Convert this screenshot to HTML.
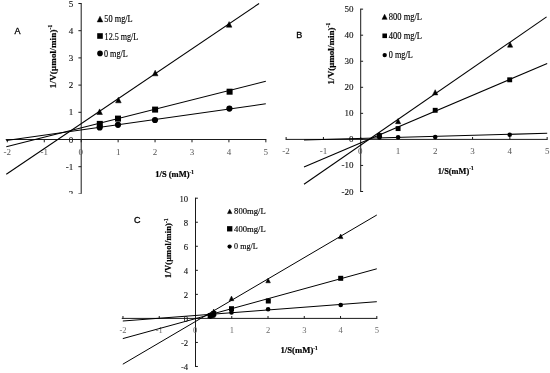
<!DOCTYPE html>
<html lang="en"><head><meta charset="utf-8"><title>Lineweaver-Burk plots</title>
<style>html,body{margin:0;padding:0;background:#fff;}svg{display:block;}</style></head><body>
<svg width="550" height="373" viewBox="0 0 550 373">
<rect x="0" y="0" width="550" height="373" fill="#fff"/>
<g id="chartA">
<line x1="81.20" y1="3.00" x2="81.20" y2="194.40" stroke="#1a1a1a" stroke-width="1"/>
<line x1="5.73" y1="139.50" x2="266.35" y2="139.50" stroke="#1a1a1a" stroke-width="1"/>
<line x1="81.20" y1="3.50" x2="78.40" y2="3.50" stroke="#1a1a1a" stroke-width="1"/>
<text x="73.20" y="6.50" font-size="9" text-anchor="end" font-weight="normal" font-family='"Liberation Serif", serif' fill="#111" stroke="#111" stroke-width="0.12">5</text>
<line x1="81.20" y1="30.70" x2="78.40" y2="30.70" stroke="#1a1a1a" stroke-width="1"/>
<text x="73.20" y="33.70" font-size="9" text-anchor="end" font-weight="normal" font-family='"Liberation Serif", serif' fill="#111" stroke="#111" stroke-width="0.12">4</text>
<line x1="81.20" y1="57.90" x2="78.40" y2="57.90" stroke="#1a1a1a" stroke-width="1"/>
<text x="73.20" y="60.90" font-size="9" text-anchor="end" font-weight="normal" font-family='"Liberation Serif", serif' fill="#111" stroke="#111" stroke-width="0.12">3</text>
<line x1="81.20" y1="85.10" x2="78.40" y2="85.10" stroke="#1a1a1a" stroke-width="1"/>
<text x="73.20" y="88.10" font-size="9" text-anchor="end" font-weight="normal" font-family='"Liberation Serif", serif' fill="#111" stroke="#111" stroke-width="0.12">2</text>
<line x1="81.20" y1="112.30" x2="78.40" y2="112.30" stroke="#1a1a1a" stroke-width="1"/>
<text x="73.20" y="115.30" font-size="9" text-anchor="end" font-weight="normal" font-family='"Liberation Serif", serif' fill="#111" stroke="#111" stroke-width="0.12">1</text>
<line x1="81.20" y1="139.50" x2="78.40" y2="139.50" stroke="#1a1a1a" stroke-width="1"/>
<text x="73.20" y="142.50" font-size="9" text-anchor="end" font-weight="normal" font-family='"Liberation Serif", serif' fill="#111" stroke="#111" stroke-width="0.12">0</text>
<line x1="81.20" y1="166.70" x2="78.40" y2="166.70" stroke="#1a1a1a" stroke-width="1"/>
<text x="73.20" y="169.70" font-size="9" text-anchor="end" font-weight="normal" font-family='"Liberation Serif", serif' fill="#111" stroke="#111" stroke-width="0.12">-1</text>
<line x1="81.20" y1="193.90" x2="78.40" y2="193.90" stroke="#1a1a1a" stroke-width="1"/>
<text x="73.20" y="196.90" font-size="9" text-anchor="end" font-weight="normal" font-family='"Liberation Serif", serif' fill="#111" stroke="#111" stroke-width="0.12">-2</text>
<line x1="7.34" y1="139.50" x2="7.34" y2="142.30" stroke="#1a1a1a" stroke-width="1"/>
<text x="7.34" y="154.50" font-size="9" text-anchor="middle" font-weight="normal" font-family='"Liberation Serif", serif' fill="#555">-2</text>
<line x1="44.27" y1="139.50" x2="44.27" y2="142.30" stroke="#1a1a1a" stroke-width="1"/>
<text x="44.27" y="154.50" font-size="9" text-anchor="middle" font-weight="normal" font-family='"Liberation Serif", serif' fill="#555">-1</text>
<line x1="81.20" y1="139.50" x2="81.20" y2="142.30" stroke="#1a1a1a" stroke-width="1"/>
<text x="80.80" y="154.50" font-size="9" text-anchor="middle" font-weight="normal" font-family='"Liberation Serif", serif' fill="#555">0</text>
<line x1="118.13" y1="139.50" x2="118.13" y2="142.30" stroke="#1a1a1a" stroke-width="1"/>
<text x="118.13" y="154.50" font-size="9" text-anchor="middle" font-weight="normal" font-family='"Liberation Serif", serif' fill="#555">1</text>
<line x1="155.06" y1="139.50" x2="155.06" y2="142.30" stroke="#1a1a1a" stroke-width="1"/>
<text x="155.06" y="154.50" font-size="9" text-anchor="middle" font-weight="normal" font-family='"Liberation Serif", serif' fill="#555">2</text>
<line x1="191.99" y1="139.50" x2="191.99" y2="142.30" stroke="#1a1a1a" stroke-width="1"/>
<text x="191.99" y="154.50" font-size="9" text-anchor="middle" font-weight="normal" font-family='"Liberation Serif", serif' fill="#555">3</text>
<line x1="228.92" y1="139.50" x2="228.92" y2="142.30" stroke="#1a1a1a" stroke-width="1"/>
<text x="228.92" y="154.50" font-size="9" text-anchor="middle" font-weight="normal" font-family='"Liberation Serif", serif' fill="#555">4</text>
<line x1="265.85" y1="139.50" x2="265.85" y2="142.30" stroke="#1a1a1a" stroke-width="1"/>
<text x="265.85" y="154.50" font-size="9" text-anchor="middle" font-weight="normal" font-family='"Liberation Serif", serif' fill="#555">5</text>
<line x1="6.30" y1="174.30" x2="259.10" y2="3.50" stroke="#000" stroke-width="1.05"/>
<line x1="6.30" y1="146.80" x2="265.80" y2="81.30" stroke="#000" stroke-width="1.05"/>
<line x1="6.30" y1="140.50" x2="265.80" y2="103.80" stroke="#000" stroke-width="1.05"/>
<circle cx="99.70" cy="127.40" r="3.10" fill="#000"/>
<circle cx="118.00" cy="124.80" r="3.10" fill="#000"/>
<circle cx="155.00" cy="120.00" r="3.10" fill="#000"/>
<circle cx="229.40" cy="108.60" r="3.10" fill="#000"/>
<rect x="96.80" y="120.90" width="6.0" height="6.0" fill="#000"/>
<rect x="115.00" y="115.60" width="6.0" height="6.0" fill="#000"/>
<rect x="152.10" y="106.60" width="6.0" height="6.0" fill="#000"/>
<rect x="226.60" y="88.70" width="6.0" height="6.0" fill="#000"/>
<polygon points="99.60,108.90 102.40,114.50 96.80,114.50" fill="#000" stroke="#000" stroke-width="0.5" stroke-linejoin="miter"/>
<polygon points="118.40,97.20 121.20,102.80 115.60,102.80" fill="#000" stroke="#000" stroke-width="0.5" stroke-linejoin="miter"/>
<polygon points="155.20,70.20 158.00,75.80 152.40,75.80" fill="#000" stroke="#000" stroke-width="0.5" stroke-linejoin="miter"/>
<polygon points="229.10,21.60 231.90,27.20 226.30,27.20" fill="#000" stroke="#000" stroke-width="0.5" stroke-linejoin="miter"/>
<polygon points="100.00,16.30 102.80,21.90 97.20,21.90" fill="#000" stroke="#000" stroke-width="0.5" stroke-linejoin="miter"/>
<text x="104.30" y="22.40" font-size="9.5" font-weight="normal" font-family='"Liberation Serif", serif' fill="#000" stroke="#000" stroke-width="0.15" textLength="28.40" lengthAdjust="spacingAndGlyphs">50 mg/L</text>
<rect x="97.20" y="33.20" width="5.6" height="5.6" fill="#000"/>
<text x="104.60" y="39.60" font-size="9.5" font-weight="normal" font-family='"Liberation Serif", serif' fill="#000" stroke="#000" stroke-width="0.15" textLength="33.70" lengthAdjust="spacingAndGlyphs">12.5 mg/L</text>
<circle cx="100.00" cy="53.40" r="2.80" fill="#000"/>
<text x="104.00" y="56.50" font-size="9.5" font-weight="normal" font-family='"Liberation Serif", serif' fill="#000" stroke="#000" stroke-width="0.15" textLength="23.80" lengthAdjust="spacingAndGlyphs">0 mg/L</text>
<text x="17.60" y="33.80" font-size="9" text-anchor="middle" font-weight="normal" font-family='"Liberation Sans", sans-serif' fill="#000" stroke="#000" stroke-width="0.3">A</text>
<text transform="translate(55.80,88.20) rotate(-90)" font-size="9" font-weight="bold" font-family='"Liberation Serif", serif' stroke="#000" stroke-width="0.2" textLength="63.60" lengthAdjust="spacing">1/V(μmol/min)<tspan font-size="5.58" dy="-3.4">-1</tspan></text>
<text x="155.30" y="177.40" font-size="9" font-weight="bold" font-family='"Liberation Serif", serif' stroke="#000" stroke-width="0.2" textLength="38.60" lengthAdjust="spacingAndGlyphs">1/S (mM)<tspan font-size="5.58" dy="-3.2">-1</tspan></text>
</g>
<rect x="0" y="193.8" width="330" height="179.2" fill="#fff"/>
<g id="chartB">
<line x1="360.70" y1="8.65" x2="360.70" y2="192.00" stroke="#1a1a1a" stroke-width="1"/>
<line x1="285.62" y1="139.40" x2="547.65" y2="139.40" stroke="#1a1a1a" stroke-width="1"/>
<line x1="360.70" y1="9.15" x2="363.10" y2="9.15" stroke="#1a1a1a" stroke-width="1"/>
<text x="353.40" y="12.15" font-size="9" text-anchor="end" font-weight="normal" font-family='"Liberation Serif", serif' fill="#111" stroke="#111" stroke-width="0.12">50</text>
<line x1="360.70" y1="35.20" x2="363.10" y2="35.20" stroke="#1a1a1a" stroke-width="1"/>
<text x="353.40" y="38.20" font-size="9" text-anchor="end" font-weight="normal" font-family='"Liberation Serif", serif' fill="#111" stroke="#111" stroke-width="0.12">40</text>
<line x1="360.70" y1="61.25" x2="363.10" y2="61.25" stroke="#1a1a1a" stroke-width="1"/>
<text x="353.40" y="64.25" font-size="9" text-anchor="end" font-weight="normal" font-family='"Liberation Serif", serif' fill="#111" stroke="#111" stroke-width="0.12">30</text>
<line x1="360.70" y1="87.30" x2="363.10" y2="87.30" stroke="#1a1a1a" stroke-width="1"/>
<text x="353.40" y="90.30" font-size="9" text-anchor="end" font-weight="normal" font-family='"Liberation Serif", serif' fill="#111" stroke="#111" stroke-width="0.12">20</text>
<line x1="360.70" y1="113.35" x2="363.10" y2="113.35" stroke="#1a1a1a" stroke-width="1"/>
<text x="353.40" y="116.35" font-size="9" text-anchor="end" font-weight="normal" font-family='"Liberation Serif", serif' fill="#111" stroke="#111" stroke-width="0.12">10</text>
<line x1="360.70" y1="139.40" x2="363.10" y2="139.40" stroke="#1a1a1a" stroke-width="1"/>
<text x="353.40" y="142.40" font-size="9" text-anchor="end" font-weight="normal" font-family='"Liberation Serif", serif' fill="#111" stroke="#111" stroke-width="0.12">0</text>
<line x1="360.70" y1="165.45" x2="363.10" y2="165.45" stroke="#1a1a1a" stroke-width="1"/>
<text x="353.40" y="168.45" font-size="9" text-anchor="end" font-weight="normal" font-family='"Liberation Serif", serif' fill="#111" stroke="#111" stroke-width="0.12">-10</text>
<line x1="360.70" y1="191.50" x2="363.10" y2="191.50" stroke="#1a1a1a" stroke-width="1"/>
<text x="353.40" y="194.50" font-size="9" text-anchor="end" font-weight="normal" font-family='"Liberation Serif", serif' fill="#111" stroke="#111" stroke-width="0.12">-20</text>
<line x1="286.12" y1="139.40" x2="286.12" y2="137.00" stroke="#1a1a1a" stroke-width="1"/>
<text x="286.12" y="154.00" font-size="9" text-anchor="middle" font-weight="normal" font-family='"Liberation Serif", serif' fill="#555">-2</text>
<line x1="323.41" y1="139.40" x2="323.41" y2="137.00" stroke="#1a1a1a" stroke-width="1"/>
<text x="323.41" y="154.00" font-size="9" text-anchor="middle" font-weight="normal" font-family='"Liberation Serif", serif' fill="#555">-1</text>
<line x1="360.70" y1="139.40" x2="360.70" y2="137.00" stroke="#1a1a1a" stroke-width="1"/>
<text x="360.20" y="154.00" font-size="9" text-anchor="middle" font-weight="normal" font-family='"Liberation Serif", serif' fill="#555">0</text>
<line x1="397.99" y1="139.40" x2="397.99" y2="137.00" stroke="#1a1a1a" stroke-width="1"/>
<text x="397.99" y="154.00" font-size="9" text-anchor="middle" font-weight="normal" font-family='"Liberation Serif", serif' fill="#555">1</text>
<line x1="435.28" y1="139.40" x2="435.28" y2="137.00" stroke="#1a1a1a" stroke-width="1"/>
<text x="435.28" y="154.00" font-size="9" text-anchor="middle" font-weight="normal" font-family='"Liberation Serif", serif' fill="#555">2</text>
<line x1="472.57" y1="139.40" x2="472.57" y2="137.00" stroke="#1a1a1a" stroke-width="1"/>
<text x="472.57" y="154.00" font-size="9" text-anchor="middle" font-weight="normal" font-family='"Liberation Serif", serif' fill="#555">3</text>
<line x1="509.86" y1="139.40" x2="509.86" y2="137.00" stroke="#1a1a1a" stroke-width="1"/>
<text x="509.86" y="154.00" font-size="9" text-anchor="middle" font-weight="normal" font-family='"Liberation Serif", serif' fill="#555">4</text>
<line x1="547.15" y1="139.40" x2="547.15" y2="137.00" stroke="#1a1a1a" stroke-width="1"/>
<text x="547.15" y="154.00" font-size="9" text-anchor="middle" font-weight="normal" font-family='"Liberation Serif", serif' fill="#555">5</text>
<line x1="304.00" y1="184.30" x2="546.60" y2="16.90" stroke="#000" stroke-width="1.05"/>
<line x1="304.00" y1="166.90" x2="547.20" y2="63.50" stroke="#000" stroke-width="1.05"/>
<line x1="304.00" y1="139.90" x2="547.20" y2="133.30" stroke="#000" stroke-width="1.05"/>
<circle cx="379.40" cy="137.50" r="2.30" fill="#000"/>
<circle cx="398.10" cy="137.30" r="2.30" fill="#000"/>
<circle cx="435.20" cy="137.00" r="2.30" fill="#000"/>
<circle cx="509.70" cy="134.70" r="2.30" fill="#000"/>
<rect x="376.95" y="133.15" width="4.9" height="4.9" fill="#000"/>
<rect x="395.65" y="126.15" width="4.9" height="4.9" fill="#000"/>
<rect x="432.75" y="107.85" width="4.9" height="4.9" fill="#000"/>
<rect x="507.25" y="77.35" width="4.9" height="4.9" fill="#000"/>
<polygon points="379.40,132.00 382.00,137.20 376.80,137.20" fill="#000" stroke="#000" stroke-width="0.5" stroke-linejoin="miter"/>
<polygon points="398.10,118.50 400.70,123.70 395.50,123.70" fill="#000" stroke="#000" stroke-width="0.5" stroke-linejoin="miter"/>
<polygon points="435.20,89.70 437.80,94.90 432.60,94.90" fill="#000" stroke="#000" stroke-width="0.5" stroke-linejoin="miter"/>
<polygon points="510.10,42.00 512.70,47.20 507.50,47.20" fill="#000" stroke="#000" stroke-width="0.5" stroke-linejoin="miter"/>
<polygon points="384.60,14.25 387.15,19.35 382.05,19.35" fill="#000" stroke="#000" stroke-width="0.5" stroke-linejoin="miter"/>
<text x="388.80" y="19.80" font-size="9.5" font-weight="normal" font-family='"Liberation Serif", serif' fill="#000" stroke="#000" stroke-width="0.15" textLength="33.20" lengthAdjust="spacingAndGlyphs">800 mg/L</text>
<rect x="382.40" y="33.50" width="4.6" height="4.6" fill="#000"/>
<text x="388.80" y="38.80" font-size="9.5" font-weight="normal" font-family='"Liberation Serif", serif' fill="#000" stroke="#000" stroke-width="0.15" textLength="33.20" lengthAdjust="spacingAndGlyphs">400 mg/L</text>
<circle cx="384.70" cy="55.10" r="2.20" fill="#000"/>
<text x="388.80" y="57.80" font-size="9.5" font-weight="normal" font-family='"Liberation Serif", serif' fill="#000" stroke="#000" stroke-width="0.15" textLength="23.90" lengthAdjust="spacingAndGlyphs">0 mg/L</text>
<text x="299.20" y="37.70" font-size="9" text-anchor="middle" font-weight="normal" font-family='"Liberation Sans", sans-serif' fill="#000" stroke="#000" stroke-width="0.3">B</text>
<text transform="translate(333.60,84.40) rotate(-90)" font-size="9" font-weight="bold" font-family='"Liberation Serif", serif' stroke="#000" stroke-width="0.2" textLength="61.60" lengthAdjust="spacing">1/V(μmol/min)<tspan font-size="5.58" dy="-3.4">-1</tspan></text>
<text x="437.70" y="173.50" font-size="9" font-weight="bold" font-family='"Liberation Serif", serif' stroke="#000" stroke-width="0.2" textLength="35.80" lengthAdjust="spacingAndGlyphs">1/S(mM)<tspan font-size="5.58" dy="-3.2">-1</tspan></text>
</g>
<g id="chartC">
<line x1="195.50" y1="197.70" x2="195.50" y2="366.98" stroke="#1a1a1a" stroke-width="1"/>
<line x1="121.75" y1="318.40" x2="377.30" y2="318.40" stroke="#1a1a1a" stroke-width="1"/>
<line x1="195.50" y1="198.20" x2="197.90" y2="198.20" stroke="#1a1a1a" stroke-width="1"/>
<text x="188.20" y="201.60" font-size="8.7" text-anchor="end" font-weight="normal" font-family='"Liberation Serif", serif' fill="#111" stroke="#111" stroke-width="0.12">10</text>
<line x1="195.50" y1="222.24" x2="197.90" y2="222.24" stroke="#1a1a1a" stroke-width="1"/>
<text x="188.20" y="225.64" font-size="8.7" text-anchor="end" font-weight="normal" font-family='"Liberation Serif", serif' fill="#111" stroke="#111" stroke-width="0.12">8</text>
<line x1="195.50" y1="246.28" x2="197.90" y2="246.28" stroke="#1a1a1a" stroke-width="1"/>
<text x="188.20" y="249.68" font-size="8.7" text-anchor="end" font-weight="normal" font-family='"Liberation Serif", serif' fill="#111" stroke="#111" stroke-width="0.12">6</text>
<line x1="195.50" y1="270.32" x2="197.90" y2="270.32" stroke="#1a1a1a" stroke-width="1"/>
<text x="188.20" y="273.72" font-size="8.7" text-anchor="end" font-weight="normal" font-family='"Liberation Serif", serif' fill="#111" stroke="#111" stroke-width="0.12">4</text>
<line x1="195.50" y1="294.36" x2="197.90" y2="294.36" stroke="#1a1a1a" stroke-width="1"/>
<text x="188.20" y="297.76" font-size="8.7" text-anchor="end" font-weight="normal" font-family='"Liberation Serif", serif' fill="#111" stroke="#111" stroke-width="0.12">2</text>
<line x1="195.50" y1="318.40" x2="197.90" y2="318.40" stroke="#1a1a1a" stroke-width="1"/>
<text x="188.20" y="321.80" font-size="8.7" text-anchor="end" font-weight="normal" font-family='"Liberation Serif", serif' fill="#111" stroke="#111" stroke-width="0.12">0</text>
<line x1="195.50" y1="342.44" x2="197.90" y2="342.44" stroke="#1a1a1a" stroke-width="1"/>
<text x="188.20" y="345.84" font-size="8.7" text-anchor="end" font-weight="normal" font-family='"Liberation Serif", serif' fill="#111" stroke="#111" stroke-width="0.12">-2</text>
<line x1="195.50" y1="366.48" x2="197.90" y2="366.48" stroke="#1a1a1a" stroke-width="1"/>
<text x="188.20" y="369.88" font-size="8.7" text-anchor="end" font-weight="normal" font-family='"Liberation Serif", serif' fill="#111" stroke="#111" stroke-width="0.12">-4</text>
<line x1="122.98" y1="318.40" x2="122.98" y2="316.00" stroke="#1a1a1a" stroke-width="1"/>
<text x="122.98" y="332.50" font-size="8.5" text-anchor="middle" font-weight="normal" font-family='"Liberation Serif", serif' fill="#6a6a6a">-2</text>
<line x1="159.24" y1="318.40" x2="159.24" y2="316.00" stroke="#1a1a1a" stroke-width="1"/>
<text x="159.24" y="332.50" font-size="8.5" text-anchor="middle" font-weight="normal" font-family='"Liberation Serif", serif' fill="#6a6a6a">-1</text>
<line x1="195.50" y1="318.40" x2="195.50" y2="316.00" stroke="#1a1a1a" stroke-width="1"/>
<text x="195.00" y="332.50" font-size="8.5" text-anchor="middle" font-weight="normal" font-family='"Liberation Serif", serif' fill="#6a6a6a">0</text>
<line x1="231.76" y1="318.40" x2="231.76" y2="316.00" stroke="#1a1a1a" stroke-width="1"/>
<text x="231.76" y="332.50" font-size="8.5" text-anchor="middle" font-weight="normal" font-family='"Liberation Serif", serif' fill="#6a6a6a">1</text>
<line x1="268.02" y1="318.40" x2="268.02" y2="316.00" stroke="#1a1a1a" stroke-width="1"/>
<text x="268.02" y="332.50" font-size="8.5" text-anchor="middle" font-weight="normal" font-family='"Liberation Serif", serif' fill="#6a6a6a">2</text>
<line x1="304.28" y1="318.40" x2="304.28" y2="316.00" stroke="#1a1a1a" stroke-width="1"/>
<text x="304.28" y="332.50" font-size="8.5" text-anchor="middle" font-weight="normal" font-family='"Liberation Serif", serif' fill="#6a6a6a">3</text>
<line x1="340.54" y1="318.40" x2="340.54" y2="316.00" stroke="#1a1a1a" stroke-width="1"/>
<text x="340.54" y="332.50" font-size="8.5" text-anchor="middle" font-weight="normal" font-family='"Liberation Serif", serif' fill="#6a6a6a">4</text>
<line x1="376.80" y1="318.40" x2="376.80" y2="316.00" stroke="#1a1a1a" stroke-width="1"/>
<text x="376.80" y="332.50" font-size="8.5" text-anchor="middle" font-weight="normal" font-family='"Liberation Serif", serif' fill="#6a6a6a">5</text>
<line x1="122.80" y1="364.20" x2="376.80" y2="215.00" stroke="#000" stroke-width="1.0"/>
<line x1="122.80" y1="338.60" x2="376.80" y2="268.80" stroke="#000" stroke-width="1.0"/>
<line x1="122.80" y1="321.00" x2="376.80" y2="301.70" stroke="#000" stroke-width="1.0"/>
<circle cx="210.30" cy="316.60" r="2.30" fill="#000"/>
<circle cx="213.70" cy="315.60" r="2.30" fill="#000"/>
<circle cx="231.50" cy="312.40" r="2.30" fill="#000"/>
<circle cx="268.10" cy="309.20" r="2.30" fill="#000"/>
<circle cx="340.70" cy="305.00" r="2.30" fill="#000"/>
<rect x="207.70" y="313.10" width="5.0" height="5.0" fill="#000"/>
<rect x="211.30" y="311.10" width="5.0" height="5.0" fill="#000"/>
<rect x="229.00" y="306.20" width="5.0" height="5.0" fill="#000"/>
<rect x="265.80" y="298.50" width="5.0" height="5.0" fill="#000"/>
<rect x="338.20" y="275.80" width="5.0" height="5.0" fill="#000"/>
<polygon points="210.30,313.10 212.60,317.70 208.00,317.70" fill="#000" stroke="#000" stroke-width="0.5" stroke-linejoin="miter"/>
<polygon points="213.70,309.00 216.00,313.60 211.40,313.60" fill="#000" stroke="#000" stroke-width="0.5" stroke-linejoin="miter"/>
<polygon points="231.50,296.10 233.80,300.70 229.20,300.70" fill="#000" stroke="#000" stroke-width="0.5" stroke-linejoin="miter"/>
<polygon points="268.10,278.20 270.40,282.80 265.80,282.80" fill="#000" stroke="#000" stroke-width="0.5" stroke-linejoin="miter"/>
<polygon points="340.70,234.00 343.00,238.60 338.40,238.60" fill="#000" stroke="#000" stroke-width="0.5" stroke-linejoin="miter"/>
<polygon points="229.70,209.20 231.90,213.60 227.50,213.60" fill="#000" stroke="#000" stroke-width="0.5" stroke-linejoin="miter"/>
<text x="234.10" y="214.30" font-size="8.9" font-weight="normal" font-family='"Liberation Serif", serif' fill="#000" stroke="#000" stroke-width="0.15" textLength="31.60" lengthAdjust="spacingAndGlyphs">800mg/L</text>
<rect x="227.05" y="226.15" width="5.3" height="5.3" fill="#000"/>
<text x="234.10" y="232.00" font-size="8.9" font-weight="normal" font-family='"Liberation Serif", serif' fill="#000" stroke="#000" stroke-width="0.15" textLength="31.60" lengthAdjust="spacingAndGlyphs">400mg/L</text>
<circle cx="229.60" cy="246.60" r="2.15" fill="#000"/>
<text x="234.10" y="249.40" font-size="8.9" font-weight="normal" font-family='"Liberation Serif", serif' fill="#000" stroke="#000" stroke-width="0.15" textLength="23.60" lengthAdjust="spacingAndGlyphs">0 mg/L</text>
<text x="137.20" y="223.00" font-size="9" text-anchor="middle" font-weight="normal" font-family='"Liberation Sans", sans-serif' fill="#000" stroke="#000" stroke-width="0.3">C</text>
<text transform="translate(171.10,277.90) rotate(-90)" font-size="8.4" font-weight="bold" font-family='"Liberation Serif", serif' stroke="#000" stroke-width="0.2" textLength="59.50" lengthAdjust="spacing">1/V(μmol/min)<tspan font-size="5.21" dy="-3.4">-1</tspan></text>
<text x="280.50" y="352.90" font-size="8.4" font-weight="bold" font-family='"Liberation Serif", serif' stroke="#000" stroke-width="0.2" textLength="37.30" lengthAdjust="spacingAndGlyphs">1/S(mM)<tspan font-size="5.21" dy="-3.2">-1</tspan></text>
</g>
</svg></body></html>
